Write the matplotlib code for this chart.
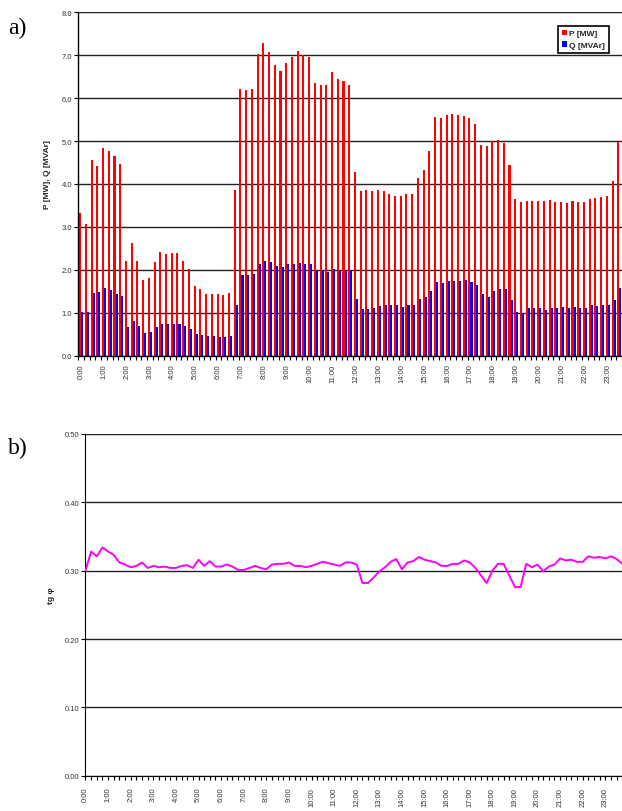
import numpy as np
import matplotlib
matplotlib.use('Agg')
import matplotlib.pyplot as plt

plt.rcParams['font.family'] = ['Liberation Sans', 'DejaVu Sans']

# 15-minute active (P) and reactive (Q) power
p_mw = [3.32, 3.06, 4.56, 4.43, 4.84, 4.77, 4.66, 4.47,
        2.21, 2.62, 2.21, 1.76, 1.80, 2.18, 2.41, 2.38,
        2.39, 2.39, 2.21, 2.03, 1.62, 1.55, 1.44, 1.43,
        1.44, 1.41, 1.46, 3.86, 6.21, 6.18, 6.21, 7.04,
        7.28, 7.08, 6.77, 6.63, 6.83, 6.97, 7.09, 7.01,
        6.95, 6.35, 6.31, 6.31, 6.60, 6.44, 6.40, 6.31,
        4.29, 3.84, 3.86, 3.84, 3.85, 3.83, 3.77, 3.71,
        3.73, 3.77, 3.77, 4.13, 4.33, 4.77, 5.55, 5.53,
        5.61, 5.62, 5.61, 5.59, 5.54, 5.39, 4.91, 4.89,
        5.00, 5.02, 4.96, 4.45, 3.65, 3.57, 3.60, 3.61,
        3.61, 3.60, 3.63, 3.57, 3.57, 3.56, 3.60, 3.57,
        3.59, 3.64, 3.67, 3.70, 3.73, 4.06, 4.97]
q_mvar = [1.01, 1.01, 1.46, 1.48, 1.58, 1.53, 1.44, 1.38,
          0.68, 0.81, 0.69, 0.54, 0.56, 0.66, 0.74, 0.73,
          0.73, 0.74, 0.69, 0.62, 0.50, 0.48, 0.46, 0.46,
          0.44, 0.44, 0.46, 1.17, 1.88, 1.89, 1.91, 2.14,
          2.20, 2.18, 2.10, 2.06, 2.13, 2.13, 2.17, 2.13,
          2.13, 1.98, 1.98, 1.96, 2.03, 1.98, 2.00, 1.98,
          1.32, 1.09, 1.09, 1.10, 1.16, 1.18, 1.18, 1.18,
          1.13, 1.18, 1.18, 1.32, 1.37, 1.50, 1.72, 1.69,
          1.73, 1.73, 1.73, 1.76, 1.72, 1.65, 1.44, 1.37,
          1.50, 1.56, 1.55, 1.30, 1.01, 0.99, 1.11, 1.11,
          1.11, 1.06, 1.11, 1.10, 1.13, 1.11, 1.13, 1.11,
          1.11, 1.17, 1.16, 1.18, 1.18, 1.30, 1.58]

# tg phi curve
tg_phi = [0.300, 0.328, 0.321, 0.334, 0.328, 0.323, 0.312, 0.309,
          0.305, 0.307, 0.312, 0.304, 0.307, 0.305, 0.306, 0.304,
          0.304, 0.307, 0.308, 0.304, 0.316, 0.307, 0.314, 0.306,
          0.306, 0.309, 0.306, 0.301, 0.301, 0.304, 0.307, 0.304,
          0.302, 0.309, 0.310, 0.310, 0.312, 0.307, 0.307, 0.305,
          0.307, 0.310, 0.313, 0.311, 0.309, 0.307, 0.312, 0.312,
          0.309, 0.282, 0.282, 0.290, 0.299, 0.305, 0.313, 0.317,
          0.302, 0.312, 0.314, 0.320, 0.316, 0.314, 0.312, 0.307,
          0.307, 0.310, 0.310, 0.315, 0.312, 0.304, 0.293, 0.282,
          0.300, 0.310, 0.310, 0.293, 0.276, 0.276, 0.310, 0.305,
          0.309, 0.299, 0.306, 0.309, 0.318, 0.315, 0.316, 0.313,
          0.313, 0.321, 0.319, 0.320, 0.318, 0.321, 0.317, 0.310]

hour_labels = [f"{h}:00" for h in range(24)]
n_slots = 96

W, H = 622, 812
fig = plt.figure(figsize=(W / 100, H / 100), dpi=100)


def px_axes(left, top, right, bottom):
    return fig.add_axes([left / W, 1 - bottom / H, (right - left) / W, (bottom - top) / H])


tick_font = dict(fontsize=5.5, color='#333333')

# ---- a) P and Q bars ----
ax1 = px_axes(78.3, 13.3, 627.9, 356.7)
x = np.arange(len(p_mw))
ax1.bar(x - 0.18, p_mw, width=0.36, color='#ff0000', label='P [MW]', zorder=2)
ax1.bar(x + 0.18, q_mvar, width=0.36, color='#0000ff', label='Q [MVAr]', zorder=2)
ax1.set_xlim(-0.5, n_slots - 0.5)
ax1.set_ylim(0, 8)
ax1.set_yticks(np.arange(0, 8.1, 1.0))
ax1.set_yticklabels([f"{v:.1f}" for v in np.arange(0, 8.1, 1.0)], **tick_font)
ax1.set_xticks(np.arange(-0.5, n_slots, 1.0))
ax1.set_xticklabels([])
ax1.set_xticks(np.arange(0, n_slots, 4), minor=True)
ax1.set_xticklabels(hour_labels, minor=True, rotation=90, **tick_font)
ax1.tick_params(axis='x', which='major', length=3, width=0.8, direction='out')
ax1.tick_params(axis='x', which='minor', length=0, pad=5.5)
ax1.tick_params(axis='y', length=3, width=0.8, pad=1.5)
ax1.set_ylabel('P [MW], Q [MVAr]', fontsize=6, fontweight='bold', color='#222222')
ax1.yaxis.set_label_coords(-0.049, 0.53)
ax1.grid(axis='y', color='#222222', lw=1.0, zorder=0)
ax1.set_axisbelow(True)
for s in ['top', 'right']:
    ax1.spines[s].set_visible(False)
for s in ['left', 'bottom']:
    ax1.spines[s].set_linewidth(1.0)
leg = ax1.legend(loc='upper right', bbox_to_anchor=(0.974, 0.973),
                 prop={'weight': 'bold', 'size': 6}, handlelength=0.6, handleheight=0.6,
                 handletextpad=0.3, borderpad=0.5, labelspacing=0.45, fancybox=False,
                 framealpha=1, edgecolor='black')
leg.get_frame().set_linewidth(1.2)
for t in leg.get_texts():
    t.set_color('#222222')

# ---- b) tg phi line ----
ax2 = px_axes(85.5, 435, 622.3, 776.7)
ax2.plot(np.arange(len(tg_phi)), tg_phi, color='#ff00ff', lw=1.4, zorder=3)
ax2.set_xlim(0, n_slots - 1)
ax2.set_ylim(0, 0.5)
ax2.set_yticks(np.arange(0, 0.51, 0.1))
ax2.set_yticklabels([f"{v:.2f}" for v in np.arange(0, 0.51, 0.1)], **tick_font)
ax2.set_xticks(np.arange(0, n_slots, 4))
ax2.set_xticklabels(hour_labels, rotation=90, **tick_font)
ax2.set_xticks(np.arange(0, n_slots, 1), minor=True)
ax2.tick_params(axis='x', which='both', length=3, width=0.8, pad=5)
ax2.tick_params(axis='y', length=3, width=0.8, pad=1.5)
ax2.set_ylabel('tg φ', fontsize=6, fontweight='bold', color='#222222')
ax2.yaxis.set_label_coords(-0.056, 0.53)
ax2.grid(axis='y', color='#222222', lw=1.0, zorder=0)
ax2.set_axisbelow(True)
for s in ['top', 'right']:
    ax2.spines[s].set_visible(False)

fig.text(8 / W, 1 - 34 / H, 'a)', fontsize=17, family='Liberation Serif', va='baseline')
fig.text(8 / W, 1 - 454 / H, 'b)', fontsize=17, family='Liberation Serif', va='baseline')

fig.savefig('out.png', dpi=100)
